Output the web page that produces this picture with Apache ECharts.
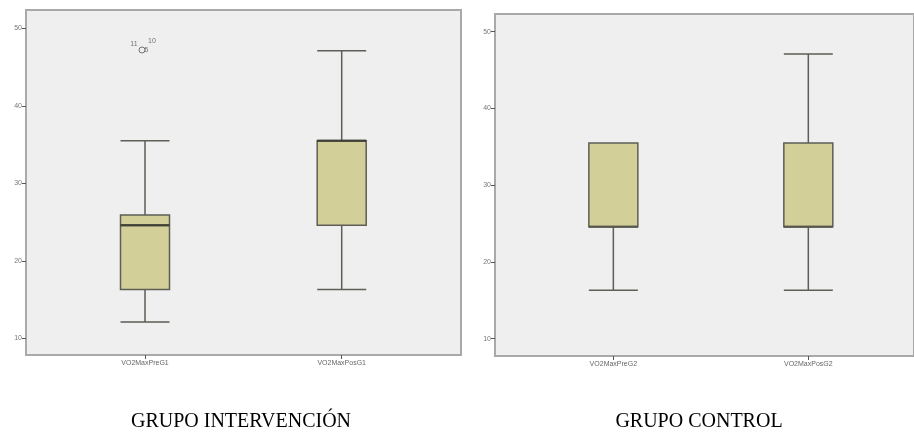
<!DOCTYPE html>
<html>
<head>
<meta charset="utf-8">
<script src="https://cdn.jsdelivr.net/npm/echarts@6/dist/echarts.min.js"></script>
<style>html,body{margin:0;padding:0;background:#fff}#c{width:914px;height:440px}</style>
</head>
<body>
<div id="c"></div>
<script>
// Data
var catsG1 = ['VO2MaxPreG1', 'VO2MaxPosG1'];
var catsG2 = ['VO2MaxPreG2', 'VO2MaxPosG2'];
// [min, Q1, median, Q3, max]
var boxG1 = [[12.1, 16.3, 24.6, 25.9, 35.5], [16.3, 24.6, 35.5, 35.5, 47.1]];
var boxG2 = [[16.3, 24.6, 24.6, 35.5, 35.5], [16.3, 24.6, 24.6, 35.5, 47.1]];
var outlierG1 = [{cat: 0, value: 47.2, label: '5'}];
var outlierLabelsG1 = [{cat: 0, value: 47.2, label: '11'}, {cat: 0, value: 47.2, label: '10'}];
var yTicks = [10, 20, 30, 40, 50];
var panelTitles = ['GRUPO INTERVENCIÓN', 'GRUPO CONTROL'];

var chart = echarts.init(document.getElementById('c'), null, {renderer: 'canvas'});

function boxData(arr) { return arr.map(function (d, i) { return [i].concat(d); }); }
function medData(arr) { return arr.map(function (d, i) { return [i, d[2]]; }); }

var gridStyle = {show: true, backgroundColor: '#efefef', borderColor: '#a9a9a9', borderWidth: 2};

function xAx(idx, cats, min, max) {
  return {
    gridIndex: idx, type: 'value', min: min, max: max, position: 'bottom',
    axisLine: {show: false, onZero: false},
    splitLine: {show: false},
    axisTick: {show: true, customValues: [0, 1], length: 4, lineStyle: {color: '#555'}},
    axisLabel: {customValues: [0, 1], fontSize: 7, color: '#666', margin: 5, fontFamily: 'Liberation Sans',
      formatter: function (v) { return cats[Math.round(v)]; }}
  };
}
function yAx(idx, min, max) {
  return {
    gridIndex: idx, type: 'value', min: min, max: max, position: 'left',
    axisLine: {show: false, onZero: false},
    splitLine: {show: false},
    axisTick: {show: true, customValues: yTicks, length: 4, lineStyle: {color: '#555'}},
    axisLabel: {customValues: yTicks, fontSize: 7, color: '#777', margin: 4, fontFamily: 'Liberation Sans'}
  };
}

var boxStyle = {color: '#d3cf98', borderColor: '#5e5e56', borderWidth: 1.5};

var option = {
  animation: false,
  grid: [
    Object.assign({left: 26, top: 10, width: 435, height: 345}, gridStyle),
    Object.assign({left: 495, top: 14, width: 419, height: 342}, gridStyle)
  ],
  xAxis: [xAx(0, catsG1, -0.605, 1.6065), xAx(1, catsG2, -0.607, 1.542)],
  yAxis: [yAx(0, 7.845, 52.36), yAx(1, 7.746, 52.31)],
  series: [
    {type: 'boxplot', xAxisIndex: 0, yAxisIndex: 0, data: boxData(boxG1), boxWidth: [49, 49], itemStyle: boxStyle},
    {type: 'boxplot', xAxisIndex: 1, yAxisIndex: 1, data: boxData(boxG2), boxWidth: [49, 49], itemStyle: boxStyle},
    {type: 'scatter', xAxisIndex: 0, yAxisIndex: 0, data: medData(boxG1), symbol: 'rect', symbolSize: [49, 2.5],
      itemStyle: {color: '#3a3a30'}, z: 5},
    {type: 'scatter', xAxisIndex: 1, yAxisIndex: 1, data: medData(boxG2), symbol: 'rect', symbolSize: [49, 2.5],
      itemStyle: {color: '#55554a'}, z: 5},
    {type: 'scatter', xAxisIndex: 0, yAxisIndex: 0,
      data: outlierG1.map(function (o) { return [o.cat, o.value, o.label]; }),
      symbol: 'circle', symbolSize: 6, symbolOffset: [-3, 0],
      itemStyle: {color: 'transparent', borderColor: '#555', borderWidth: 1},
      label: {show: true, formatter: function (p) { return p.data[2]; }, position: 'right', distance: -1,
        fontSize: 7, color: '#555', fontFamily: 'Liberation Sans'}, z: 6},
    {type: 'scatter', xAxisIndex: 0, yAxisIndex: 0,
      data: outlierLabelsG1.map(function (o, i) { return {value: [o.cat, o.value, o.label],
        label: {offset: i === 0 ? [-11, -6] : [7, -9]}}; }),
      symbolSize: 0,
      label: {show: true, formatter: function (p) { return p.data.value[2]; }, position: 'inside',
        fontSize: 7, color: '#555', fontFamily: 'Liberation Sans'}, z: 6}
  ],
  graphic: [
    {type: 'text', x: 241, y: 412, style: {text: panelTitles[0], font: '20px "Liberation Serif"', fill: '#000', textAlign: 'center', textVerticalAlign: 'top'}},
    {type: 'text', x: 699, y: 412, style: {text: panelTitles[1], font: '20px "Liberation Serif"', fill: '#000', textAlign: 'center', textVerticalAlign: 'top'}}
  ]
};
chart.setOption(option);
</script>
</body>
</html>
